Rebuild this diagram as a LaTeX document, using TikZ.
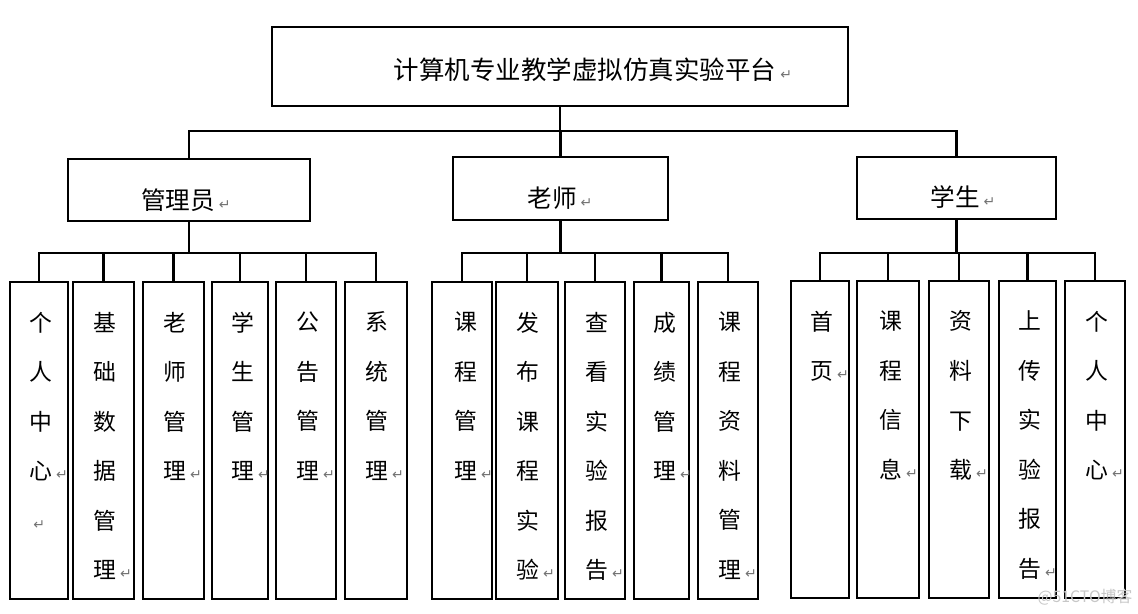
\documentclass[tikz,border=0pt]{standalone}
\usepackage{fontspec}
\setmainfont{Noto Sans CJK SC}
\newfontfamily\markfont{DejaVu Sans}
\usepackage{xcolor}
\usetikzlibrary{positioning}

% Word's paragraph mark after each text
\newcommand{\enter}{\rlap{\,\markfont\fontsize{8pt}{8pt}\selectfont\textcolor{black!55}{↵}}}
\newcommand{\lonemark}{\makebox[13pt][l]{\enter}}

\begin{document}
\begin{tikzpicture}[
		    x=0.02cm, y=-0.02cm,
		    box/.style={draw, line width=1.4pt, inner sep=0pt},
		    leaf/.style={box, minimum height=6.34cm},
		    line/.style={line width=1.4pt}
		]
		\tikzset{
		    title/.style={inner sep=0pt, font=\fontsize{14.5pt}{16pt}\selectfont},
		    head/.style={inner sep=0pt, font=\fontsize{14pt}{16pt}\selectfont},
		    word/.style={inner sep=0pt, anchor=north, align=center, font=\fontsize{13pt}{28.2pt}\selectfont},
		    stamp/.style={inner sep=0pt, text=black!22, font=\fontsize{9pt}{10pt}\selectfont}
		}
		\useasboundingbox (0,0) rectangle (1138,614);
		% top level
		\node[box, minimum width=11.52cm, minimum height=1.58cm] (root) at (560,66.5) {};
		\node[title] (roottxt) at (585,70) {计算机专业教学虚拟仿真实验平台\enter};
		% roles
		\node[box, minimum width=4.84cm, minimum height=1.24cm] (admin) at (189,190) {};
		\node[head] (admintxt) at (178,200) {管理员\enter};
		\node[box, minimum width=4.3cm, minimum height=1.26cm] (teacher) at (560.5,188.5) {};
		\node[head] (teachertxt) at (552,198) {老师\enter};
		\node[box, minimum width=3.98cm, minimum height=1.24cm] (student) at (956.5,188) {};
		\node[head] (studenttxt) at (955,197) {学生\enter};
		\coordinate (bus1) at (0,131);
		\draw[line] (root.south) -- (root.south |- bus1);
		\draw[line] (admin.north) -- (admin.north |- bus1) -- (student.north |- bus1) -- (student.north);
		\draw[line] (teacher.north) -- (teacher.north |- bus1);
		% admin functions
		\node[leaf, minimum width=1.16cm] (a1) at (39,440.5) {};
		\node[leaf, minimum width=1.22cm] (a2) at (103.5,440.5) {};
		\node[leaf, minimum width=1.22cm] (a3) at (173.5,440.5) {};
		\node[leaf, minimum width=1.12cm] (a4) at (240,440.5) {};
		\node[leaf, minimum width=1.2cm] (a5) at (306,440.5) {};
		\node[leaf, minimum width=1.24cm] (a6) at (376,440.5) {};
		\node[word] (a1txt) at (41,311.5) {个\\人\\中\\心\enter\\\lonemark};
		\node[word] (a2txt) at (105,311.5) {基\\础\\数\\据\\管\\理\enter};
		\node[word] (a3txt) at (175,311.5) {老\\师\\管\\理\enter};
		\node[word] (a4txt) at (243,311.5) {学\\生\\管\\理\enter};
		\node[word] (a5txt) at (308,311.5) {公\\告\\管\\理\enter};
		\node[word] (a6txt) at (377,311.5) {系\\统\\管\\理\enter};
		% teacher functions
		\node[leaf, minimum width=1.2cm] (t1) at (462,440.5) {};
		\node[leaf, minimum width=1.24cm] (t2) at (527,440.5) {};
		\node[leaf, minimum width=1.2cm] (t3) at (595,440.5) {};
		\node[leaf, minimum width=1.1cm] (t4) at (661.5,440.5) {};
		\node[leaf, minimum width=1.2cm] (t5) at (728,440.5) {};
		\node[word] (t1txt) at (466,311.5) {课\\程\\管\\理\enter};
		\node[word] (t2txt) at (528,311.5) {发\\布\\课\\程\\实\\验\enter};
		\node[word] (t3txt) at (597,311.5) {查\\看\\实\\验\\报\\告\enter};
		\node[word] (t4txt) at (665,311.5) {成\\绩\\管\\理\enter};
		\node[word] (t5txt) at (730,311.5) {课\\程\\资\\料\\管\\理\enter};
		% student functions
		\node[leaf, minimum width=1.16cm] (s1) at (820,439.5) {};
		\node[leaf, minimum width=1.24cm] (s2) at (888,439.5) {};
		\node[leaf, minimum width=1.2cm] (s3) at (959,439.5) {};
		\node[leaf, minimum width=1.14cm] (s4) at (1027.5,439.5) {};
		\node[leaf, minimum width=1.2cm] (s5) at (1095,439.5) {};
		\node[word] (s1txt) at (822,310.5) {首\\页\enter};
		\node[word] (s2txt) at (891,310.5) {课\\程\\信\\息\enter};
		\node[word] (s3txt) at (961,310.5) {资\\料\\下\\载\enter};
		\node[word] (s4txt) at (1030,310.5) {上\\传\\实\\验\\报\\告\enter};
		\node[word] (s5txt) at (1097,310.5) {个\\人\\中\\心\enter};
		% second level buses
		\coordinate (bus2) at (0,253);
		\draw[line] (admin.south) -- (admin.south |- bus2);
		\draw[line] (a1.north) -- (a1.north |- bus2) -- (a6.north |- bus2) -- (a6.north);
		\draw[line] (a2.north) -- (a2.north |- bus2);
		\draw[line] (a3.north) -- (a3.north |- bus2);
		\draw[line] (a4.north) -- (a4.north |- bus2);
		\draw[line] (a5.north) -- (a5.north |- bus2);
		\draw[line] (teacher.south) -- (teacher.south |- bus2);
		\draw[line] (t1.north) -- (t1.north |- bus2) -- (t5.north |- bus2) -- (t5.north);
		\draw[line] (t2.north) -- (t2.north |- bus2);
		\draw[line] (t3.north) -- (t3.north |- bus2);
		\draw[line] (t4.north) -- (t4.north |- bus2);
		\draw[line] (student.south) -- (student.south |- bus2);
		\draw[line] (s1.north) -- (s1.north |- bus2) -- (s5.north |- bus2) -- (s5.north);
		\draw[line] (s2.north) -- (s2.north |- bus2);
		\draw[line] (s3.north) -- (s3.north |- bus2);
		\draw[line] (s4.north) -- (s4.north |- bus2);
		\node[stamp] (wmark) at (1085,597) {@51CTO博客};
		\end{tikzpicture}
\end{document}
